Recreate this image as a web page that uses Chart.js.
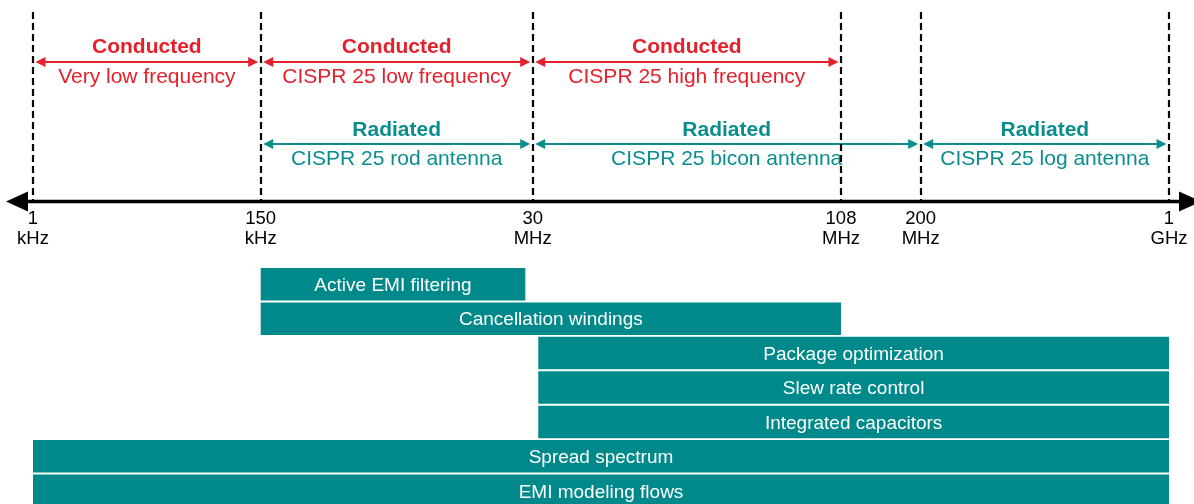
<!DOCTYPE html>
<html>
<head>
<meta charset="utf-8">
<script src="https://cdn.jsdelivr.net/npm/chart.js@4"></script>
<style>
  html, body { margin: 0; padding: 0; background: #fff; overflow: hidden; }
  #emi-chart { display: block; }
</style>
</head>
<body>
<canvas id="emi-chart" width="1194" height="508"></canvas>
<script>
// frequency axis ticks
const tickFreqs = [1e3, 150e3, 30e6, 108e6, 200e6, 1e9];
const tickNumbers = ['1', '150', '30', '108', '200', '1'];
const tickUnits = ['kHz', 'kHz', 'MHz', 'MHz', 'MHz', 'GHz'];

// test bands (Hz)
const conductedBands = [[1e3, 150e3], [150e3, 30e6], [30e6, 108e6]];
const conductedNames = ['Very low frequency', 'CISPR 25 low frequency', 'CISPR 25 high frequency'];
const radiatedBands = [[150e3, 30e6], [30e6, 200e6], [200e6, 1e9]];
const radiatedNames = ['CISPR 25 rod antenna', 'CISPR 25 bicon antenna', 'CISPR 25 log antenna'];

// mitigation techniques and their effective ranges (Hz)
const techniques = ['Active EMI filtering', 'Cancellation windings', 'Package optimization',
    'Slew rate control', 'Integrated capacitors', 'Spread spectrum', 'EMI modeling flows'];
const techStart = [150e3, 150e3, 30.7e6, 30.7e6, 30.7e6, 1e3, 1e3];
const techEnd = [26e6, 108e6, 1e9, 1e9, 1e9, 1e9, 1e9];

// layout: the axis is not to scale, each tick sits at its own spot
const tickSpots = [0, 227.7, 499.7, 808, 887.7, 1136];
const RED = '#e6202b';
const TEAL = '#0b8d8e';
const BAR = '#00898a';
const FONT = '"Liberation Sans", Arial, Helvetica, sans-serif';

function toAxis(f) {
    for (let i = 0; i < tickFreqs.length - 1; i++) {
        if (f <= tickFreqs[i + 1] || i === tickFreqs.length - 2) {
            const t = Math.log(f / tickFreqs[i]) / Math.log(tickFreqs[i + 1] / tickFreqs[i]);
            return tickSpots[i] + t * (tickSpots[i + 1] - tickSpots[i]);
        }
    }
}

function arrowHead(ctx, x, y, dir, len, half) {
    ctx.beginPath();
    ctx.moveTo(x, y);
    ctx.lineTo(x - dir * len, y - half);
    ctx.lineTo(x - dir * len, y + half);
    ctx.closePath();
    ctx.fill();
}

function drawBand(ctx, xs, band, y, color) {
    const x1 = xs.getPixelForValue(toAxis(band[0])) + 2.5;
    const x2 = xs.getPixelForValue(toAxis(band[1])) - 2.5;
    ctx.strokeStyle = color;
    ctx.fillStyle = color;
    ctx.lineWidth = 2;
    ctx.beginPath();
    ctx.moveTo(x1 + 6, y);
    ctx.lineTo(x2 - 6, y);
    ctx.stroke();
    arrowHead(ctx, x1, y, -1, 10, 5);
    arrowHead(ctx, x2, y, 1, 10, 5);
    return (x1 + x2) / 2;
}

const freqAxis = {
    id: 'freqAxis',
    afterDraw(chart) {
        const ctx = chart.ctx;
        const xs = chart.scales.x;
        ctx.save();
        ctx.textAlign = 'center';
        ctx.textBaseline = 'middle';

        conductedBands.forEach((band, i) => {
            const mid = drawBand(ctx, xs, band, 62, RED);
            ctx.font = 'bold 21px ' + FONT;
            ctx.fillText('Conducted', mid, 47);
            ctx.font = '21px ' + FONT;
            ctx.fillText(conductedNames[i], mid, 77.5);
        });
        radiatedBands.forEach((band, i) => {
            const mid = drawBand(ctx, xs, band, 144, TEAL);
            ctx.font = 'bold 21px ' + FONT;
            ctx.fillText('Radiated', mid, 130);
            ctx.font = '21px ' + FONT;
            ctx.fillText(radiatedNames[i], mid, 159.5);
        });

        // dashed guides
        ctx.strokeStyle = '#000';
        ctx.lineWidth = 2.2;
        ctx.setLineDash([7, 4]);
        tickFreqs.forEach(f => {
            const x = Math.round(xs.getPixelForValue(toAxis(f)));
            ctx.beginPath();
            ctx.moveTo(x, 12);
            ctx.lineTo(x, 200);
            ctx.stroke();
        });
        ctx.setLineDash([]);

        // main axis with arrows at both ends
        ctx.lineWidth = 3.5;
        ctx.beginPath();
        ctx.moveTo(20, 201.5);
        ctx.lineTo(1185, 201.5);
        ctx.stroke();
        ctx.fillStyle = '#000';
        arrowHead(ctx, 6, 201.5, -1, 22, 10);
        arrowHead(ctx, 1201, 201.5, 1, 22, 10);

        ctx.font = '18.5px ' + FONT;
        tickFreqs.forEach((f, i) => {
            const x = xs.getPixelForValue(toAxis(f));
            ctx.fillText(tickNumbers[i], x, 219);
            ctx.fillText(tickUnits[i], x, 239);
        });

        // names inside the bars
        const meta = chart.getDatasetMeta(0);
        ctx.fillStyle = '#fff';
        ctx.font = '19px ' + FONT;
        meta.data.forEach((bar, i) => {
            const cx = (bar.x + bar.base) / 2;
            ctx.fillText(techniques[i], cx, bar.y + 1.5);
        });
        ctx.restore();
    }
};

new Chart(document.getElementById('emi-chart'), {
    type: 'bar',
    data: {
        labels: techniques,
        datasets: [{
            data: techStart.map((s, i) => [toAxis(s), toAxis(techEnd[i])]),
            backgroundColor: BAR,
            borderWidth: 0,
            barPercentage: 0.945,
            categoryPercentage: 1
        }]
    },
    options: {
        indexAxis: 'y',
        responsive: false,
        animation: false,
        layout: { padding: { top: 267, left: 33, right: 25, bottom: 0 } },
        plugins: { legend: { display: false }, tooltip: { enabled: false } },
        scales: {
            x: { type: 'linear', min: 0, max: tickSpots[tickSpots.length - 1], display: false },
            y: { display: false }
        }
    },
    plugins: [freqAxis]
});
</script>
</body>
</html>
